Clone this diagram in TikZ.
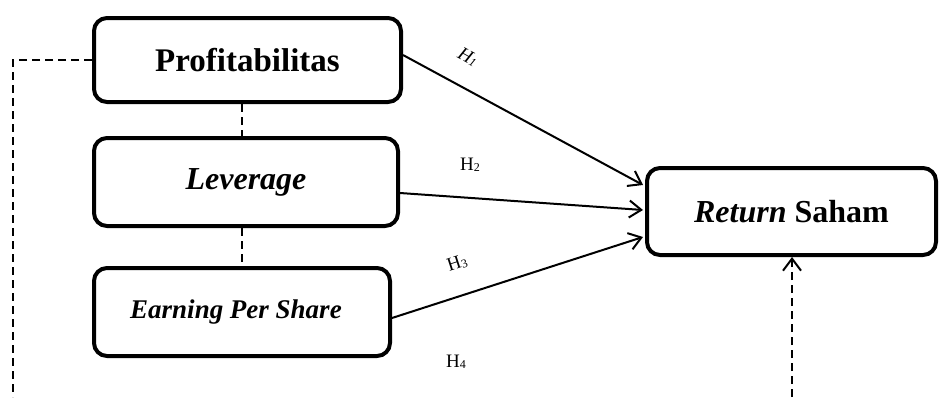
\documentclass[tikz,border=0pt]{standalone}
\usepackage{fontspec}
\setmainfont{Liberation Serif}
\usetikzlibrary{arrows.meta}
\newcommand{\hsub}[1]{\raisebox{-1.5pt}{\fontsize{12}{12}\selectfont #1}}
\begin{document}
\begin{tikzpicture}[x=1pt,y=-1pt,
  varbox/.style={draw=black, line width=4pt, rounded corners=13pt, inner sep=0pt, align=center},
  path/.style={line width=2pt, -{Straight Barb[length=12pt,width=17pt,line width=2pt]}},
  link/.style={line width=1.5pt, dash pattern=on 8pt off 5pt},
  hlabel/.style={font=\fontsize{19}{21}\selectfont, inner sep=0pt}
]
\useasboundingbox (0,0) rectangle (940,397);
\node[varbox, minimum width=307pt, minimum height=84pt, font=\fontsize{33}{36}\selectfont\bfseries] (P) at (247.5,60) {Profitabilitas};
\node[varbox, minimum width=304pt, minimum height=88pt, font=\fontsize{32}{36}\selectfont\bfseries\itshape] (L) at (246,182) {Leverage};
\node[varbox, minimum width=296pt, minimum height=88pt, font=\fontsize{27}{30}\selectfont\bfseries\itshape] (E) at (242,312) {\hspace*{-12pt}Earning Per Share};
\node[varbox, minimum width=289pt, minimum height=87pt, font=\fontsize{32}{36}\selectfont\bfseries] (R) at (791.5,211.5) {\raisebox{-4pt}{\textit{Return} Saham}};

\draw[path] (P.east |- 0,55) -- (643,185);
\draw[path] (L.east |- 0,193) -- (643,210);
\draw[path] (E.east |- 0,318) -- (643,237);

\node[hlabel, rotate=-28.7] (h1) at (468,57) {\itshape H\hsub{1}};
\node[hlabel] (h2) at (470,165) {H\hsub{2}};
\node[hlabel, rotate=18] (h3) at (457,263) {H\hsub{3}};
\node[hlabel] (h4) at (456,362) {H\hsub{4}};

\coordinate (lt) at (13,60);
\coordinate (lb) at (13,397);
\coordinate (rb) at (792,397);
\draw[link] (P.west |- 0,60) -- (lt) -- (lb);
\draw[link] (P.south -| 242,0) -- (L.north -| 242,0);
\draw[link] (L.south -| 242,0) -- (E.north -| 242,0);
\draw[link, -{Straight Barb[length=12pt,width=18pt,line width=2pt]}] (rb) -- (R.south -| 792,0);
\end{tikzpicture}
\end{document}
